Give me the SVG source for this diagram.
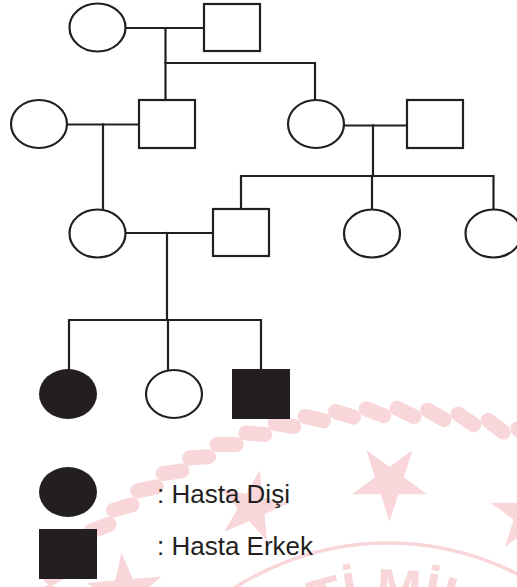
<svg xmlns="http://www.w3.org/2000/svg" xmlns:xlink="http://www.w3.org/1999/xlink" width="517" height="587" viewBox="0 0 517 587">
  <style>
    .wm { fill: #f8d6d9; stroke: none; }
    .wml { fill: none; stroke: #f8d6d9; stroke-width: 3.5; }
    .wmt { fill: #f8d6d9; font-family: "Liberation Sans", Arial, sans-serif; font-weight: bold; font-size: 54px; }
    .node { fill: #ffffff; stroke: #231f20; stroke-width: 2.2; }
    .aff { fill: #231f20; stroke: none; }
    .link { fill: none; stroke: #231f20; stroke-width: 2.2; stroke-linecap: square; }
    .lbl { fill: #231f20; font-family: "Liberation Sans", Arial, sans-serif; font-size: 26px; }
  </style>
  <defs>
    <rect id="seg" x="371" y="404.5" width="34" height="15" rx="7.5" transform="rotate(23 388 412)"/>
    <polygon id="star" points="0,-39.5 8.88,-12.22 37.57,-12.21 14.36,4.67 23.22,31.96 0,15.1 -23.22,31.96 -14.36,4.67 -37.57,-12.21 -8.88,-12.22"/>
    <path id="wmArc" d="M196.6,717.5 A221,221 0 0 1 579.4,717.5"/>
  </defs>
  <rect width="517" height="587" fill="#ffffff"/>

  <g id="watermark">
    <g class="wm">
      <use xlink:href="#seg" transform="rotate(-64.8 388 828)"/>
      <use xlink:href="#seg" transform="rotate(-60.6 388 828)"/>
      <use xlink:href="#seg" transform="rotate(-56.4 388 828)"/>
      <use xlink:href="#seg" transform="rotate(-52.2 388 828)"/>
      <use xlink:href="#seg" transform="rotate(-48.0 388 828)"/>
      <use xlink:href="#seg" transform="rotate(-43.8 388 828)"/>
      <use xlink:href="#seg" transform="rotate(-39.6 388 828)"/>
      <use xlink:href="#seg" transform="rotate(-35.4 388 828)"/>
      <use xlink:href="#seg" transform="rotate(-31.2 388 828)"/>
      <use xlink:href="#seg" transform="rotate(-27.0 388 828)"/>
      <use xlink:href="#seg" transform="rotate(-22.8 388 828)"/>
      <use xlink:href="#seg" transform="rotate(-18.6 388 828)"/>
      <use xlink:href="#seg" transform="rotate(-14.4 388 828)"/>
      <use xlink:href="#seg" transform="rotate(-10.2 388 828)"/>
      <use xlink:href="#seg" transform="rotate(-6.0 388 828)"/>
      <use xlink:href="#seg" transform="rotate(-1.8 388 828)"/>
      <use xlink:href="#seg" transform="rotate(2.4 388 828)"/>
      <use xlink:href="#seg" transform="rotate(6.6 388 828)"/>
      <use xlink:href="#seg" transform="rotate(10.8 388 828)"/>
      <use xlink:href="#seg" transform="rotate(15.0 388 828)"/>
      <use xlink:href="#seg" transform="rotate(19.2 388 828)"/>
      <use xlink:href="#seg" transform="rotate(23.4 388 828)"/>
      <use xlink:href="#seg" transform="rotate(27.6 388 828)"/>
      <use xlink:href="#star" transform="translate(389.5 482) rotate(180)"/>
      <use xlink:href="#star" transform="translate(252 507) rotate(12) scale(0.95)"/>
      <use xlink:href="#star" transform="translate(125 592) rotate(-5)"/>
      <use xlink:href="#star" transform="translate(528 515)"/>
    </g>
    <circle class="wml" cx="388" cy="828" r="285"/>
    <text class="wmt"><textPath xlink:href="#wmArc" startOffset="120">ETİ MİLLÎ</textPath></text>
  </g>

  <g id="connectors">
    <path class="link" d="M126 28 H204"/>
    <path class="link" d="M165.5 28 V63 H315 V100"/>
    <path class="link" d="M165.5 63 V100"/>
    <path class="link" d="M67 124.5 H139"/>
    <path class="link" d="M103 124.5 V209.5"/>
    <path class="link" d="M344 125.5 H407"/>
    <path class="link" d="M373 125.5 V176"/>
    <path class="link" d="M241 209 V176 H493.5 V209.5"/>
    <path class="link" d="M372 176 V209.5"/>
    <path class="link" d="M126 233 H213"/>
    <path class="link" d="M167 233 V320"/>
    <path class="link" d="M69 369 V320 H261 V369"/>
    <path class="link" d="M168 320 V370"/>
  </g>

  <g id="gen1-female"><ellipse class="node" cx="97.5" cy="27.5" rx="28" ry="24"/></g>
  <g id="gen1-male"><rect class="node" x="204" y="4" width="56" height="47"/></g>

  <g id="gen2-female1"><ellipse class="node" cx="39" cy="124" rx="28" ry="24"/></g>
  <g id="gen2-male1"><rect class="node" x="139" y="100" width="56" height="48"/></g>
  <g id="gen2-female2"><ellipse class="node" cx="316" cy="124" rx="28" ry="24"/></g>
  <g id="gen2-male2"><rect class="node" x="407" y="100" width="56" height="48"/></g>

  <g id="gen3-female1"><ellipse class="node" cx="97.5" cy="233.5" rx="28" ry="24"/></g>
  <g id="gen3-male1"><rect class="node" x="213" y="209" width="56" height="47"/></g>
  <g id="gen3-female2"><ellipse class="node" cx="372" cy="233.5" rx="28" ry="24"/></g>
  <g id="gen3-female3"><ellipse class="node" cx="493.5" cy="233.5" rx="28" ry="24"/></g>

  <g id="gen4-female1"><ellipse class="aff" cx="68" cy="394" rx="29" ry="25"/></g>
  <g id="gen4-female2"><ellipse class="node" cx="174" cy="394" rx="28" ry="24"/></g>
  <g id="gen4-male1"><rect class="aff" x="232" y="369" width="58" height="50"/></g>

  <g id="legend-female">
    <ellipse class="aff" cx="68" cy="492" rx="29" ry="25"/>
    <text class="lbl" x="157" y="503">: Hasta Dişi</text>
  </g>
  <g id="legend-male">
    <rect class="aff" x="39" y="529" width="58" height="50"/>
    <text class="lbl" x="157" y="555">: Hasta Erkek</text>
  </g>
</svg>
